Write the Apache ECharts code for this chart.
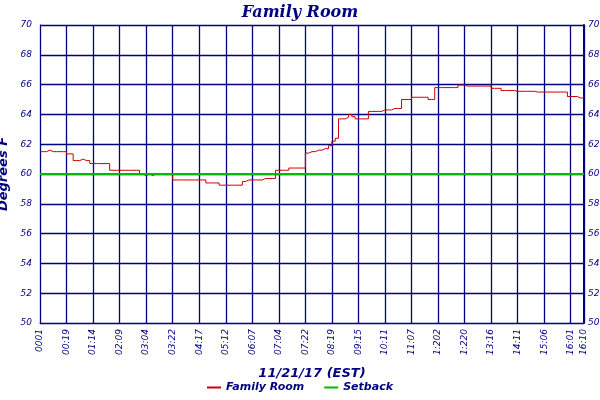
<!DOCTYPE html>
<html><head><meta charset="utf-8">
<script src="https://cdn.jsdelivr.net/npm/echarts@6/dist/echarts.min.js"></script>
<style>html,body{margin:0;padding:0;background:#fff}#c{width:600px;height:400px}</style>
</head><body><div id="c"></div>
<script>
var tickLabels = ['0001','00:19','01:14','02:09','03:04','03:22','04:17','05:12','06:07','07:04','07:22','08:19','09:15','10:11','11:07','1:202','1:220','13:16','14:11','15:06','16:01','16:10'];
var familyRoom = [
61.5,61.5,61.6,61.5,61.5,61.5,61.5,61.5,61.35,61.35,
60.9,60.9,61.0,60.9,60.9,60.7,60.7,60.7,60.7,60.7,
60.7,60.25,60.25,60.25,60.25,60.25,60.25,60.25,60.25,60.25,
60.0,59.9,60.0,59.9,60.0,60.0,60.0,59.95,60.0,60.0,
59.6,59.6,59.6,59.6,59.6,59.6,59.6,59.6,59.6,59.6,
59.4,59.4,59.4,59.4,59.25,59.25,59.25,59.25,59.25,59.25,
59.25,59.5,59.6,59.6,59.6,59.6,59.6,59.7,59.7,59.7,
59.7,60.25,60.25,60.25,60.25,60.4,60.4,60.4,60.4,60.4,
61.4,61.5,61.5,61.6,61.6,61.7,61.7,61.9,62.2,62.4,
63.7,63.7,63.8,64.0,63.85,63.7,63.7,63.7,63.7,64.2,
64.2,64.2,64.2,64.3,64.3,64.3,64.4,64.4,64.4,65.0,
65.0,65.0,65.15,65.15,65.15,65.15,65.15,65.0,65.0,65.8,
65.8,65.8,65.8,65.8,65.8,65.8,65.97,65.97,65.9,65.9,
65.9,65.9,65.9,65.9,65.9,65.9,65.75,65.75,65.75,65.6,
65.6,65.6,65.6,65.55,65.55,65.55,65.55,65.55,65.55,65.5,
65.5,65.5,65.5,65.5,65.5,65.5,65.5,65.5,65.5,65.2,
65.2,65.2,65.1,65.1,65.1];
var setback = 60;
var cats = familyRoom.map(function(v,i){
  if (i%8===0) return tickLabels[i/8];
  if (i===familyRoom.length-1) return tickLabels[tickLabels.length-1];
  return '';
});
function showTick(i){ return i%8===0 || i===familyRoom.length-1; }
var navy='#000080', F='DejaVu Sans';
var chart = echarts.init(document.getElementById('c'));
chart.setOption({
  animation:false,
  backgroundColor:'#fff',
  title:{text:'Family Room',left:'center',top:0,textStyle:{color:navy,fontSize:16,fontStyle:'italic',fontWeight:'bold',fontFamily:'DejaVu Serif'}},
  legend:{bottom:2,left:'center',itemWidth:14,itemHeight:2,icon:'rect',itemGap:20,
    textStyle:{color:navy,fontStyle:'italic',fontWeight:'bold',fontSize:11,fontFamily:F},
    data:['Family Room','Setback']},
  grid:{left:40,right:16,top:25,bottom:77,containLabel:false,outerBoundsMode:'none'},
  xAxis:{type:'category',data:cats,boundaryGap:false,
    name:'11/21/17 (EST)',nameLocation:'middle',nameGap:44,
    nameTextStyle:{color:navy,fontStyle:'italic',fontWeight:'bold',fontSize:13,fontFamily:F},
    axisLine:{lineStyle:{color:navy,width:1}},axisTick:{show:false},
    axisLabel:{interval:function(i){return showTick(i);},rotate:90,color:navy,fontStyle:'italic',fontSize:9,fontFamily:F,margin:6,showMaxLabel:true},
    splitLine:{show:true,interval:function(i){return showTick(i);},lineStyle:{color:navy,width:1.3}}},
  yAxis:[{type:'value',min:50,max:70,interval:2,
    name:'Degrees F',nameLocation:'middle',nameGap:27,
    nameTextStyle:{color:navy,fontStyle:'italic',fontWeight:'bold',fontSize:13,fontFamily:F},
    axisLine:{show:true,lineStyle:{color:navy}},axisTick:{show:false},
    axisLabel:{color:navy,fontStyle:'italic',fontSize:9,fontFamily:F,margin:8},
    splitLine:{lineStyle:{color:navy,width:1.3}}},
   {type:'value',min:50,max:70,interval:2,position:'right',
    axisLine:{show:true,lineStyle:{color:navy,width:2}},axisTick:{show:false},
    axisLabel:{color:navy,fontStyle:'italic',fontSize:9,fontFamily:F,margin:4},
    splitLine:{show:false}}],
  series:[
    {name:'Family Room',type:'line',step:'end',data:familyRoom,symbol:'none',color:'#cc0000',lineStyle:{width:1,color:'#cc0000'},z:3},
    {name:'Setback',type:'line',data:[],symbol:'none',color:'#00bb00',lineStyle:{color:'#00bb00'},
     markLine:{silent:true,symbol:'none',label:{show:false},lineStyle:{color:'#00bb00',width:2,type:'solid'},data:[{yAxis:setback}]},z:2}
  ]
});
</script></body></html>
